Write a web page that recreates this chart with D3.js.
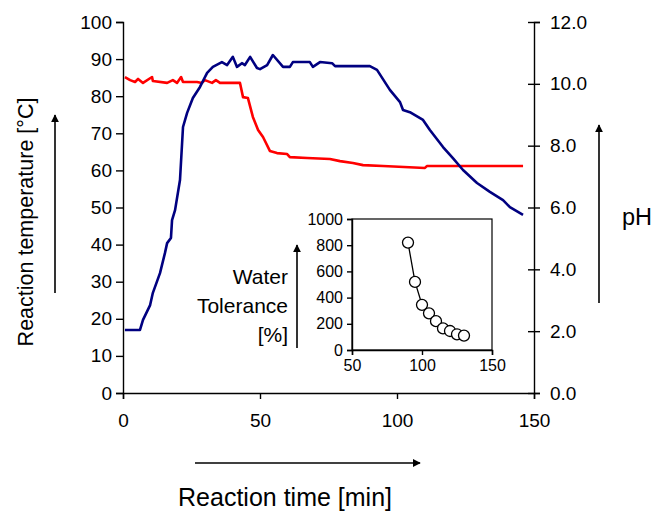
<!DOCTYPE html>
<html>
<head>
<meta charset="utf-8">
<script src="https://cdn.jsdelivr.net/npm/d3@7"></script>
<style>
  body { margin: 0; background: #fff; }
  svg { font-family: "Liberation Sans", Arial, sans-serif; }
</style>
</head>
<body>
<svg width="665" height="511"></svg>
<script>
// reaction temperature (blue, left axis)
var tempTime  = [0.7, 6.2, 7.3, 9.9, 10.9, 13.5, 15.3, 16.1, 17.5, 17.9, 19.0, 20.8, 21.9, 23.4, 25.5, 28.1, 30.7, 32.8, 36.1, 38.0, 40.1, 41.6, 43.4, 44.5, 46.4, 48.9, 50.0, 52.6, 54.7, 58.4, 60.9, 62.0, 68.2, 69.3, 71.9, 76.3, 77.4, 90.1, 92.7, 97.4, 101.1, 102.2, 104.7, 109.5, 112.0, 116.8, 120.4, 124.1, 129.2, 133.9, 138.7, 141.2, 146.0];
var tempValue = [17.0, 17.0, 19.7, 23.7, 27.0, 32.3, 37.7, 40.4, 41.8, 46.6, 49.3, 57.4, 71.7, 75.5, 79.5, 82.5, 86.3, 87.9, 89.2, 88.4, 90.6, 87.9, 88.9, 88.4, 90.6, 87.6, 87.3, 88.4, 91.1, 87.9, 87.9, 89.2, 89.2, 87.9, 89.2, 88.9, 88.1, 88.1, 87.1, 81.7, 78.4, 76.3, 75.7, 73.6, 70.9, 66.3, 63.3, 60.1, 56.6, 54.2, 52.0, 50.1, 48.0];

// pH (red, right axis)
var phTime  = [0.7, 2.6, 4.4, 5.5, 7.3, 10.6, 10.9, 16.1, 18.2, 19.7, 21.2, 21.9, 27.0, 28.8, 29.9, 32.5, 33.9, 35.4, 42.7, 43.8, 45.6, 47.4, 49.3, 51.1, 53.6, 56.2, 59.9, 60.9, 67.2, 75.5, 79.2, 83.9, 87.6, 94.9, 110.2, 110.9, 146.0];
var phValue = [10.22, 10.12, 10.06, 10.16, 10.03, 10.22, 10.09, 10.03, 10.12, 10.03, 10.22, 10.06, 10.06, 10.03, 10.12, 10.03, 10.12, 10.03, 10.03, 9.57, 9.54, 8.93, 8.51, 8.28, 7.83, 7.76, 7.73, 7.63, 7.60, 7.57, 7.50, 7.44, 7.37, 7.34, 7.28, 7.34, 7.34];

// inset: water tolerance
var tolTime  = [90, 95, 100, 105, 110, 115, 120, 125, 130];
var tolValue = [820, 520, 345, 280, 220, 165, 145, 120, 110];

var timeTicks = [0, 50, 100, 150];
var tempTicks = [0, 10, 20, 30, 40, 50, 60, 70, 80, 90, 100];
var phTicks   = [0, 2, 4, 6, 8, 10, 12];
var tolTicks  = [0, 200, 400, 600, 800, 1000];
var tolTimeTicks = [50, 100, 150];

var svg = d3.select("svg");

svg.append("defs").append("marker")
    .attr("id", "arrow").attr("viewBox", "0 0 10 10")
    .attr("refX", 9).attr("refY", 5)
    .attr("markerWidth", 5).attr("markerHeight", 5)
    .attr("markerUnits", "strokeWidth")
    .attr("orient", "auto")
  .append("path").attr("d", "M0,0 L10,5 L0,10 z").attr("fill", "#000");

var x = d3.scaleLinear().domain([0, 150]).range([123, 534]);
var yT = d3.scaleLinear().domain([0, 100]).range([393, 22]);
var yP = d3.scaleLinear().domain([0, 12]).range([393, 22]);

function styleAxis(g, size) {
    g.selectAll("path, line").attr("stroke", "#000").attr("stroke-width", 1.4);
    g.selectAll("text").attr("font-size", size).attr("fill", "#000");
}

// left axis
svg.append("g").attr("transform", "translate(123,0)")
    .call(d3.axisLeft(yT).tickValues(tempTicks).tickSizeOuter(0).tickSize(7).tickPadding(4))
    .call(styleAxis, 19);

// right axis, ticks crossing
var gr = svg.append("g").attr("transform", "translate(534,0)")
    .call(d3.axisRight(yP).tickValues(phTicks).tickFormat(d3.format(".1f")).tickSizeOuter(0).tickSize(6).tickPadding(10))
    .call(styleAxis, 19);
gr.selectAll(".tick line").attr("x1", -6);

// bottom axis
svg.append("g").attr("transform", "translate(0,393)")
    .call(d3.axisBottom(x).tickValues(timeTicks).tickSizeOuter(0).tickSize(6).tickPadding(15))
    .call(styleAxis, 19);

// lines
svg.append("path")
    .datum(d3.zip(phTime, phValue))
    .attr("fill", "none").attr("stroke", "#ff0000").attr("stroke-width", 2.6)
    .attr("stroke-linejoin", "round")
    .attr("d", d3.line().x(function(d) { return x(d[0]); }).y(function(d) { return yP(d[1]); }));

svg.append("path")
    .datum(d3.zip(tempTime, tempValue))
    .attr("fill", "none").attr("stroke", "#000080").attr("stroke-width", 2.6)
    .attr("stroke-linejoin", "round")
    .attr("d", d3.line().x(function(d) { return x(d[0]); }).y(function(d) { return yT(d[1]); }));

// inset
var ix = d3.scaleLinear().domain([50, 150]).range([352, 492]);
var iy = d3.scaleLinear().domain([0, 1000]).range([350, 219]);

svg.append("rect").attr("x", 352).attr("y", 219).attr("width", 140).attr("height", 131)
    .attr("fill", "#fff").attr("stroke", "#000").attr("stroke-width", 1.2);

svg.append("g").attr("transform", "translate(352,0)")
    .call(d3.axisLeft(iy).tickValues(tolTicks).tickFormat(d3.format("d")).tickSizeOuter(0).tickSize(5).tickPadding(4))
    .call(styleAxis, 16);

svg.append("g").attr("transform", "translate(0,350)")
    .call(d3.axisBottom(ix).tickValues(tolTimeTicks).tickSizeOuter(0).tickSize(5).tickPadding(5))
    .call(styleAxis, 16);

svg.append("path")
    .datum(d3.zip(tolTime, tolValue))
    .attr("fill", "none").attr("stroke", "#000").attr("stroke-width", 1.3)
    .attr("d", d3.line().x(function(d) { return ix(d[0]); }).y(function(d) { return iy(d[1]); }));

svg.selectAll("circle.tol")
    .data(d3.zip(tolTime, tolValue))
    .enter().append("circle").attr("class", "tol")
    .attr("cx", function(d) { return ix(d[0]); })
    .attr("cy", function(d) { return iy(d[1]); })
    .attr("r", 5.5)
    .attr("fill", "#fff").attr("stroke", "#000").attr("stroke-width", 1.3);

// labels + arrows
function arrow(x1, y1, x2, y2) {
    svg.append("line").attr("x1", x1).attr("y1", y1).attr("x2", x2).attr("y2", y2)
        .attr("stroke", "#000").attr("stroke-width", 1.6).attr("marker-end", "url(#arrow)");
}

svg.append("text").attr("transform", "translate(33,222) rotate(-90)")
    .attr("text-anchor", "middle").attr("font-size", 21.5).text("Reaction temperature [°C]");
arrow(55, 293, 55, 115);

svg.append("text").attr("x", 637).attr("y", 225)
    .attr("text-anchor", "middle").attr("font-size", 23.5).text("pH");
arrow(599, 303, 599, 125);

svg.append("text").attr("x", 285).attr("y", 506)
    .attr("text-anchor", "middle").attr("font-size", 25).text("Reaction time [min]");
arrow(195, 463, 420, 463);

var wt = svg.append("text").attr("text-anchor", "end").attr("font-size", 21);
wt.append("tspan").attr("x", 288).attr("y", 284).text("Water");
wt.append("tspan").attr("x", 288).attr("y", 313).text("Tolerance");
wt.append("tspan").attr("x", 288).attr("y", 342).text("[%]");
arrow(297, 348, 297, 245);
</script>
</body>
</html>
